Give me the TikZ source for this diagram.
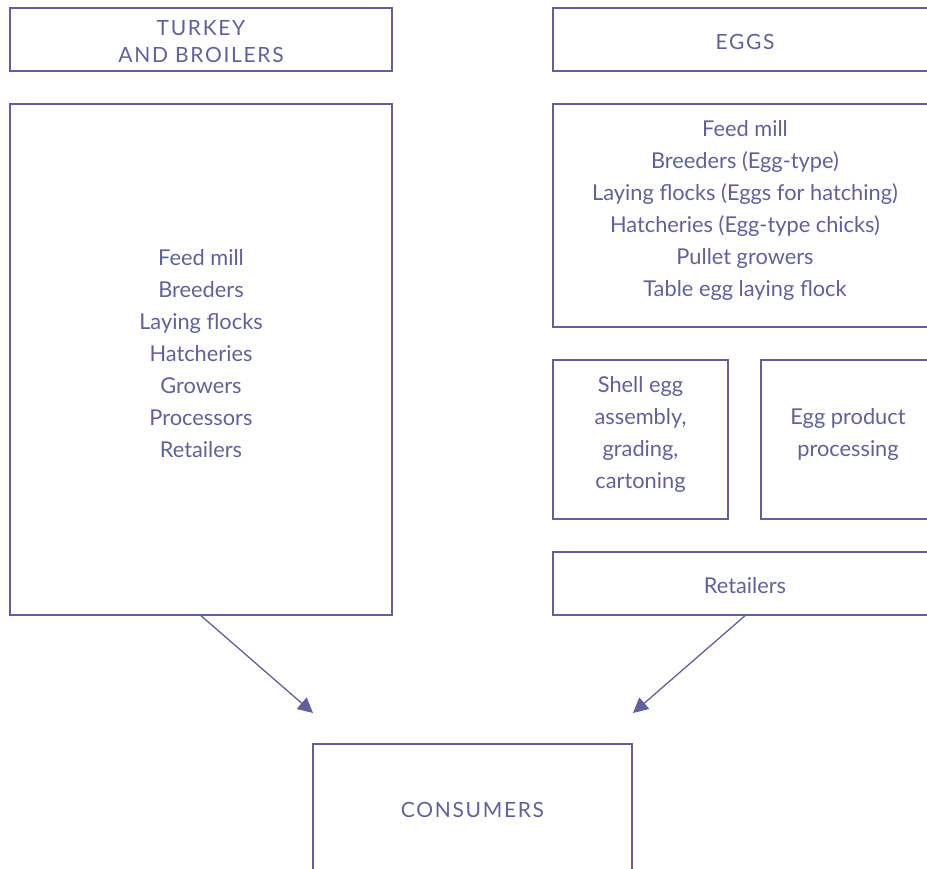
\documentclass[tikz,border=0pt]{standalone}
\usepackage{fontspec}
\setmainfont{Lato}
\usetikzlibrary{arrows.meta}
\definecolor{ink}{RGB}{96,96,160}
\begin{document}
\begin{tikzpicture}[x=1pt,y=-1pt,
  box/.style={draw=ink, line width=1.4pt, inner sep=0pt},
  txt/.style={text=ink, font=\fontsize{21.8}{32}\selectfont, align=center, inner sep=0pt},
  hdr/.style={text=ink, font=\fontsize{21}{27}\selectfont\addfontfeatures{LetterSpace=8}, align=center, inner sep=0pt},
  arr/.style={draw=ink, line width=1.3pt, -{Triangle[length=15pt,width=15pt]}}]
\useasboundingbox (0,0) rectangle (927,869);
\clip (0,0) rectangle (927,869);
% headers
\node[box, minimum width=382pt, minimum height=63pt] (th) at (201,39.5) {};
\node[hdr] (tht) at (201,42) {TURKEY\\AND BROILERS};
\node[box, minimum width=384pt, minimum height=63pt] (eh) at (745,39.5) {};
\node[hdr] (eht) at (745,42) {EGGS};
% turkey and broilers chain
\node[box, minimum width=382pt, minimum height=511pt] (lb) at (201,359.5) {};
\node[txt] (lbt) at (201,354) {Feed mill\\Breeders\\Laying flocks\\Hatcheries\\Growers\\Processors\\Retailers};
% egg chain
\node[box, minimum width=384pt, minimum height=223pt] (rb) at (745,215.5) {};
\node[txt] (rbt) at (745,210) {Feed mill\\Breeders (Egg-type)\\Laying flocks (Eggs for hatching)\\Hatcheries (Egg-type chicks)\\Pullet growers\\Table egg laying flock};
\node[box, minimum width=175pt, minimum height=159pt] (sb) at (640.5,439.5) {};
\node[txt] (sbt) at (640.5,434) {Shell egg\\assembly,\\grading,\\cartoning};
\node[box, minimum width=176pt, minimum height=159pt] (pb) at (849,439.5) {};
\node[txt] (pbt) at (848,434) {Egg product\\processing};
\node[box, minimum width=384pt, minimum height=63pt] (rt) at (745,583.5) {};
\node[txt] (rtt) at (745,586) {Retailers};
% consumers
\node[box, minimum width=319pt, minimum height=140pt] (cb) at (472.5,814) {};
\node[hdr] (cbt) at (472.5,810) {CONSUMERS};
% arrows toward consumers
\coordinate (la) at (313,713);
\coordinate (ra) at (633,713);
\draw[arr] (lb.south) -- (la);
\draw[arr] (rt.south) -- (ra);
\end{tikzpicture}
\end{document}
